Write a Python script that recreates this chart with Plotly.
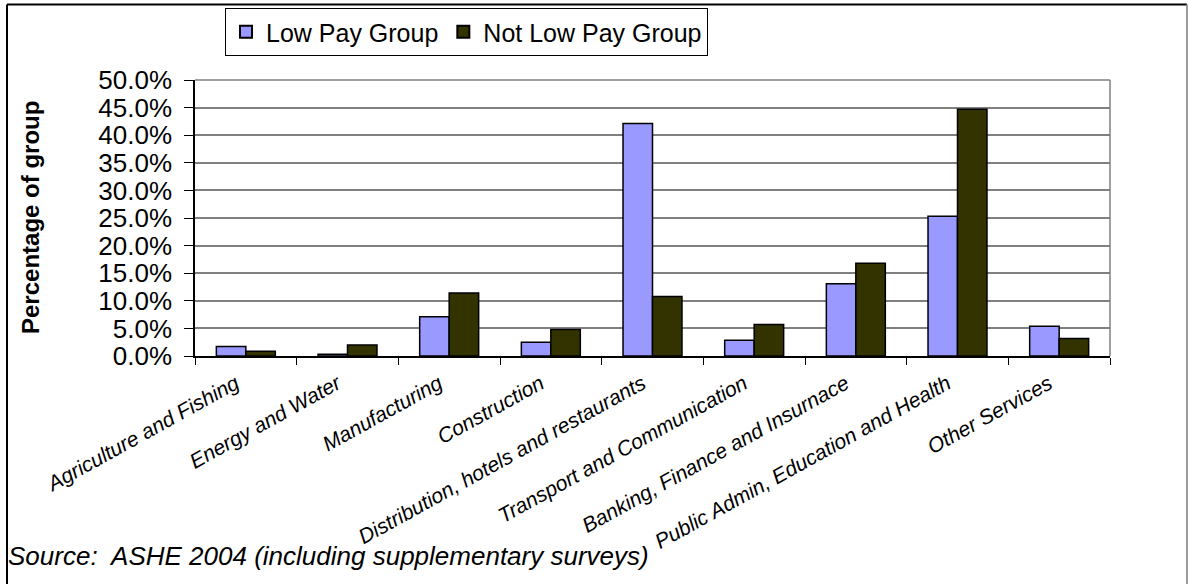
import plotly.graph_objects as go

# Industry sectors and share of each pay group (fractions of group total)
sectors = [
    "Agriculture and Fishing",
    "Energy and Water",
    "Manufacturing",
    "Construction",
    "Distribution, hotels and restaurants",
    "Transport and Communication",
    "Banking, Finance and Insurnace",
    "Public Admin, Education and Health",
    "Other Services",
]
low_pay = [0.017, 0.003, 0.071, 0.025, 0.421, 0.0285, 0.131, 0.253, 0.054]
not_low_pay = [0.0085, 0.020, 0.114, 0.048, 0.108, 0.057, 0.168, 0.447, 0.0315]
y_ticks = [0.0, 0.05, 0.10, 0.15, 0.20, 0.25, 0.30, 0.35, 0.40, 0.45, 0.50]

W, H = 1188, 584
L, R, T, B = 195, 78, 80, 228
pw, ph = W - L - R, H - T - B


def px_x(p):
    return (p - L) / pw


def px_y(p):
    return (H - B - p) / ph


FONT = "Liberation Sans, Arial, sans-serif"
PAD = "\u00a0" * 2  # pulls the slanted labels back from the tick centre

fig = go.Figure()
fig.add_trace(go.Bar(
    x=sectors, y=low_pay, name="Low Pay Group",
    marker=dict(color="#9999FF", line=dict(color="black", width=1.5)),
))
fig.add_trace(go.Bar(
    x=sectors, y=not_low_pay, name="Not Low Pay Group",
    marker=dict(color="#333300", line=dict(color="black", width=1.5)),
))

fig.update_layout(
    width=W, height=H,
    margin=dict(l=L, r=R, t=T, b=B, autoexpand=False),
    paper_bgcolor="white", plot_bgcolor="white",
    barmode="group", bargap=0.42, bargroupgap=0,
    font=dict(family=FONT, color="black"),
    showlegend=True,
    legend=dict(
        orientation="h", x=px_x(225), y=px_y(8), xanchor="left", yanchor="top",
        bordercolor="black", borderwidth=1, bgcolor="white",
        font=dict(family=FONT, size=25, color="black"),
        itemsizing="constant", tracegroupgap=0,
    ),
    xaxis=dict(
        type="category", tickson="boundaries", ticks="outside", ticklen=7,
        tickcolor="black", showline=True, linecolor="black", linewidth=1.5,
        tickangle=-29, showgrid=False,
        tickvals=sectors, ticktext=[s + PAD for s in sectors],
        tickfont=dict(family=FONT, size=21, style="italic", color="black"),
    ),
    yaxis=dict(
        range=[0, 0.5], tickvals=y_ticks, tickformat=".1%",
        ticks="outside", ticklen=9, tickcolor="black", ticklabelstandoff=7,
        showline=True, linecolor="black", linewidth=1.5,
        showgrid=True, gridcolor="#808080", gridwidth=1.5,
        zeroline=False,
        tickfont=dict(family=FONT, size=26, color="black"),
    ),
    shapes=[
        # plot area border on the top and right
        dict(type="line", xref="paper", yref="paper", x0=0, x1=1, y0=1, y1=1,
             line=dict(color="#808080", width=1.5)),
        dict(type="line", xref="paper", yref="paper", x0=1, x1=1, y0=0, y1=1,
             line=dict(color="#808080", width=1.5)),
        # chart frame
        dict(type="line", xref="paper", yref="paper",
             x0=px_x(7), x1=px_x(1187), y0=px_y(4.5), y1=px_y(4.5),
             line=dict(color="black", width=2)),
        dict(type="line", xref="paper", yref="paper",
             x0=px_x(7), x1=px_x(7), y0=px_y(4.5), y1=px_y(600),
             line=dict(color="black", width=2)),
        dict(type="line", xref="paper", yref="paper",
             x0=px_x(1187), x1=px_x(1187), y0=px_y(4.5), y1=px_y(600),
             line=dict(color="#999999", width=2)),
    ],
    annotations=[
        dict(text="<b>Percentage of group</b>", textangle=-90,
             xref="paper", yref="paper", x=px_x(30), y=0.5,
             xanchor="center", yanchor="middle", showarrow=False,
             font=dict(family=FONT, size=24, color="black")),
        dict(text="Source:  ASHE 2004 (including supplementary surveys)",
             xref="paper", yref="paper", x=px_x(6), y=px_y(556),
             xanchor="left", yanchor="middle", showarrow=False,
             font=dict(family=FONT, size=26, style="italic", color="black")),
    ],
)

fig.write_html("out.html")
